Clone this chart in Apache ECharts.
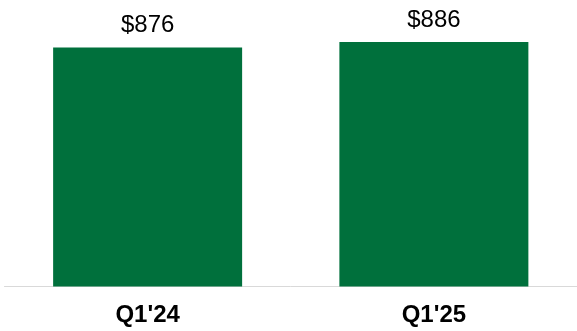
<!DOCTYPE html>
<html>
<head>
<meta charset="utf-8">
<script src="https://cdn.jsdelivr.net/npm/echarts@6/dist/echarts.min.js"></script>
<style>
html,body{margin:0;padding:0;background:#fff;}
#chart{width:577px;height:331px;}
</style>
</head>
<body>
<div id="chart"></div>
<script>
const categories = ["Q1'24", "Q1'25"];
const values = [876, 886];
const valueLabels = ["$876", "$886"];

const chart = echarts.init(document.getElementById('chart'), null, {renderer: 'canvas'});
chart.setOption({
  animation: false,
  grid: {left: 4.5, width: 577, top: 20, height: 266.5, containLabel: false},
  xAxis: {
    type: 'category',
    data: categories,
    axisLine: {show: true, lineStyle: {color: '#d9d9d9', width: 1}},
    axisTick: {show: false},
    axisLabel: {
      color: '#000',
      fontFamily: 'Liberation Sans, Arial, sans-serif',
      fontWeight: 'bold',
      fontSize: 24,
      margin: 17
    }
  },
  yAxis: {
    type: 'value',
    min: 450,
    max: 925,
    show: false,
    splitLine: {show: false}
  },
  series: [{
    type: 'bar',
    data: values,
    barWidth: 189,
    itemStyle: {color: '#00703c'},
    label: {
      show: true,
      position: 'top',
      distance: 10,
      color: '#000',
      fontFamily: 'Liberation Sans, Arial, sans-serif',
      fontSize: 24,
      formatter: p => valueLabels[p.dataIndex]
    }
  }]
});
</script>
</body>
</html>
